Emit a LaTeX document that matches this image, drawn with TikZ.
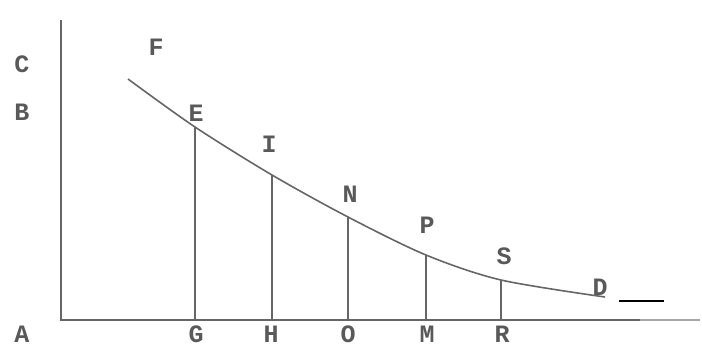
\documentclass[tikz,border=0pt]{standalone}
\usepackage{fontspec}
\setmainfont{Liberation Mono}
\begin{document}
\begin{tikzpicture}[x=1pt,y=-1pt,
  lbl/.style={text=black!65, font=\fontsize{25}{27}\selectfont\bfseries, inner sep=0pt, anchor=center},
  ln/.style={draw=black!60, line width=1.6pt}]
\useasboundingbox (0,0) rectangle (702,346);
% axes
\coordinate (top) at (61,20);
\coordinate (A0) at (61,320);
\coordinate (Xend) at (640,320);
\coordinate (Xfar) at (700,320);
\draw[ln] (top) -- (A0) -- (Xend);
\draw[draw=black!35, line width=1.4pt] (Xend) -- (Xfar);
% curve points
\coordinate (Fp) at (128,79);
\coordinate (Ep) at (195,127);
\coordinate (Ip) at (272,175);
\coordinate (Np) at (348,217);
\coordinate (Pp) at (426,255);
\coordinate (Sp) at (501,280);
\coordinate (Dp) at (605,297);
% base points
\coordinate (Gp) at (195,320);
\coordinate (Hp) at (272,320);
\coordinate (Op) at (348,320);
\coordinate (Mp) at (426,320);
\coordinate (Rp) at (501,320);
\draw[ln] plot[smooth, tension=0.5] coordinates {(Fp) (Ep) (Ip) (Np) (Pp) (Sp) (Dp)};
\foreach \a/\b in {Ep/Gp,Ip/Hp,Np/Op,Pp/Mp,Sp/Rp} \draw[ln] (\a) -- (\b);
% short black dash
\coordinate (k1) at (619,301);
\coordinate (k2) at (664,301);
\draw[black, line width=1.8pt] (k1) -- (k2);
% labels
\node[lbl] (C) at (22,64) {C};
\node[lbl] (B) at (22,112) {B};
\node[lbl] (A) at (22,334) {A};
\node[lbl] (F) at (156,47) {F};
\node[lbl] (E) at (196,113) {E};
\node[lbl] (I) at (269,144) {I};
\node[lbl] (N) at (350,194) {N};
\node[lbl] (P) at (427,225) {P};
\node[lbl] (S) at (504,256) {S};
\node[lbl] (D) at (600,287) {D};
\node[lbl] (G) at (196,334) {G};
\node[lbl] (H) at (271,334) {H};
\node[lbl] (O) at (348,334) {O};
\node[lbl] (M) at (427,334) {M};
\node[lbl] (R) at (502,334) {R};
\end{tikzpicture}
\end{document}
